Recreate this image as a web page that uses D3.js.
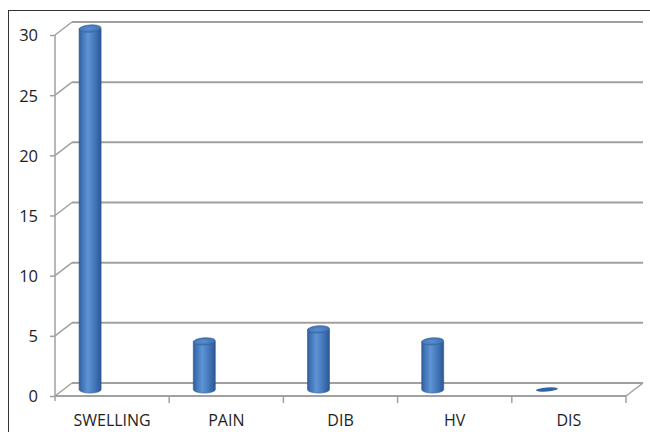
<!DOCTYPE html>
<html>
<head>
<meta charset="utf-8">
<script src="https://cdn.jsdelivr.net/npm/d3@7"></script>
<style>
  html, body { margin: 0; padding: 0; background: #fff; }
  svg { display: block; }
  text { font-family: "Open Sans", Lato, sans-serif; fill: #1e1e1e; }
</style>
</head>
<body>
<svg id="chart" width="650" height="432"></svg>
<script>
// Symptom counts
const categories = ["SWELLING", "PAIN", "DIB", "HV", "DIS"];
const counts = [30, 4, 5, 4, 0];
const yTicks = [0, 5, 10, 15, 20, 25, 30];

const W = 650, H = 432;
const svg = d3.select("#chart");

// 3D box: front plane and depth offset of the back wall
const frontLeft = 55, frontRight = 626;
const depthX = 17, depthY = -13;

const yFront = d3.scaleLinear().domain([0, 30]).range([396, 35]);
const x = d3.scaleBand().domain(categories).range([frontLeft, frontRight]);

const gridColor = "#a0a0a0";

// outer frame
svg.append("rect")
  .attr("x", 8.5).attr("y", 10.5)
  .attr("width", W + 10).attr("height", H + 10)
  .attr("fill", "none").attr("stroke", "#333").attr("stroke-width", 1);

const grid = svg.append("g").attr("fill", "none").attr("stroke", gridColor);

// back-wall gridlines and side-wall diagonals
yTicks.forEach(v => {
  const yf = yFront(v);
  grid.append("line")
    .attr("x1", frontLeft + depthX).attr("x2", frontRight + depthX)
    .attr("y1", yf + depthY).attr("y2", yf + depthY)
    .attr("stroke-width", 2);
  grid.append("line")
    .attr("x1", frontLeft).attr("y1", yf)
    .attr("x2", frontLeft + depthX).attr("y2", yf + depthY)
    .attr("stroke-width", 1.5);
});

// floor front edge and right edge
grid.append("line")
  .attr("x1", frontLeft).attr("x2", frontRight)
  .attr("y1", yFront(0)).attr("y2", yFront(0))
  .attr("stroke-width", 2);
grid.append("line")
  .attr("x1", frontRight).attr("y1", yFront(0))
  .attr("x2", frontRight + depthX).attr("y2", yFront(0) + depthY)
  .attr("stroke-width", 1.5);

// value axis
const yAxis = d3.axisLeft(yFront).tickValues(yTicks).tickSize(5).tickPadding(12);
const gy = svg.append("g").attr("transform", `translate(${frontLeft},0)`).call(yAxis);
gy.select(".domain").remove();
gy.selectAll(".tick line").attr("stroke", gridColor).attr("stroke-width", 1.5);
gy.selectAll(".tick text").attr("font-size", 16.5).attr("fill", "#1e1e1e").attr("dy", "0.36em");
svg.append("line")
  .attr("x1", frontLeft).attr("x2", frontLeft)
  .attr("y1", yFront(30)).attr("y2", yFront(0) + 5)
  .attr("stroke", gridColor).attr("stroke-width", 1.5);

// category axis: ticks on band boundaries
const bounds = categories.map(c => x(c) + x.bandwidth());
svg.append("g").selectAll("line").data(bounds).join("line")
  .attr("x1", d => d).attr("x2", d => d)
  .attr("y1", yFront(0)).attr("y2", yFront(0) + 7)
  .attr("stroke", gridColor).attr("stroke-width", 1.5);

const xAxis = d3.axisBottom(x).tickSize(0).tickPadding(0);
const gx = svg.append("g").attr("transform", "translate(0,426)").call(xAxis);
gx.select(".domain").remove();
gx.selectAll(".tick text").attr("font-size", 16).attr("fill", "#1e1e1e").attr("dy", 0);

// cylinders sit on the mid-depth plane
const yMid = v => yFront(v) + depthY / 2;
const barShift = -22, barW = 22, ry = 3.6;

const defs = svg.append("defs");
const sideGrad = defs.append("linearGradient").attr("id", "cyl").attr("x1", 0).attr("x2", 1);
[[0, "#2f5d99"], [0.12, "#3f72b4"], [0.4, "#5e93d4"], [0.7, "#4478bb"], [1, "#2c5894"]]
  .forEach(([o, c]) => sideGrad.append("stop").attr("offset", o).attr("stop-color", c));
const capGrad = defs.append("radialGradient").attr("id", "cap").attr("cx", 0.45).attr("cy", 0.5).attr("r", 0.6);
[[0, "#5a8ed0"], [1, "#3d6fae"]]
  .forEach(([o, c]) => capGrad.append("stop").attr("offset", o).attr("stop-color", c));

const bars = svg.append("g").selectAll("g").data(categories).join("g")
  .attr("transform", (c) => `translate(${x(c) + x.bandwidth() / 2 + barShift},0)`);

bars.each(function (c, i) {
  const g = d3.select(this);
  const v = counts[i];
  const yb = yMid(0), yt = yMid(v);
  if (v > 0) {
    const r = barW / 2;
    g.append("path")
      .attr("d", `M${-r},${yt} L${-r},${yb} A${r},${ry} 0 0 0 ${r},${yb} L${r},${yt} Z`)
      .attr("fill", "url(#cyl)").attr("stroke", "#2c5a96").attr("stroke-width", 0.6);
    g.append("ellipse")
      .attr("cx", 0).attr("cy", yt).attr("rx", r).attr("ry", ry)
      .attr("transform", `rotate(-4,0,${yt})`)
      .attr("fill", "url(#cap)").attr("stroke", "#2f5e9c").attr("stroke-width", 0.6);
  } else {
    g.append("ellipse")
      .attr("cx", 0).attr("cy", yb).attr("rx", barW / 2).attr("ry", 2)
      .attr("transform", `rotate(-4,0,${yb})`)
      .attr("fill", "#2f63a3");
  }
});
</script>
</body>
</html>
